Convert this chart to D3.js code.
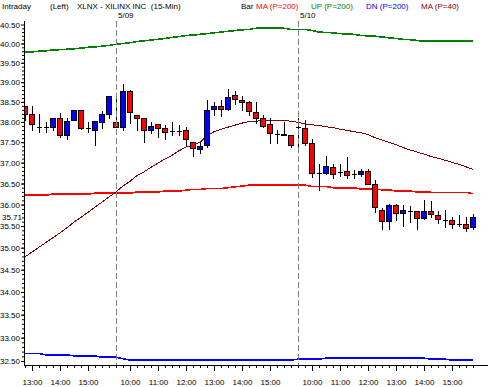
<!DOCTYPE html>
<html>
<head>
<meta charset="utf-8">
<script src="https://cdn.jsdelivr.net/npm/d3@7/dist/d3.min.js"></script>
<style>
body { margin: 0; background: #fff; }
text { font-family: "Liberation Sans", Arial, sans-serif; font-size: 8px; }
</style>
</head>
<body>
<div id="chart"></div>
<script>
// Bar times (15-min bars) for the three sessions shown
var dates = ["5/08", "5/09", "5/10"];
var day1Times = ["12:45","13:00","13:15","13:30","13:45","14:00","14:15","14:30","14:45","15:00","15:15","15:30","15:45"];
var sessionTimes = ["09:30","09:45","10:00","10:15","10:30","10:45","11:00","11:15","11:30","11:45","12:00","12:15","12:30",
  "12:45","13:00","13:15","13:30","13:45","14:00","14:15","14:30","14:45","15:00","15:15","15:30","15:45"];

// OHLC per bar
var open = [38.39,38.21,37.88,37.88,37.88,38.11,37.67,38.06,38.29,37.84,37.81,38.00,38.21,
  37.99,37.88,38.77,38.18,38.09,37.80,37.96,37.84,37.78,37.78,37.81,37.51,37.34,37.43,38.33,38.41,38.33,38.67,38.56,38.49,38.26,38.09,37.96,37.71,37.71,37.67,
  37.88,37.84,37.47,36.74,36.75,36.89,36.78,36.79,36.72,36.72,36.79,36.50,35.88,35.62,35.98,35.80,35.85,35.84,35.69,35.84,35.75,35.65,35.63,35.54,35.55,35.47];
var high = [38.40,38.41,38.19,38.00,38.11,38.23,38.11,38.31,38.30,38.00,38.03,38.27,38.65,
  38.67,38.95,38.80,38.18,38.09,38.00,37.96,37.92,38.00,37.92,37.88,37.51,37.51,38.55,38.51,38.56,38.83,38.77,38.65,38.52,38.51,38.17,38.09,37.80,38.00,37.67,
  38.09,38.06,37.57,36.98,37.16,36.98,36.98,37.14,36.82,36.84,36.86,36.58,35.92,36.01,36.01,35.98,35.97,35.84,36.10,36.08,35.85,35.87,35.71,35.75,35.71,35.79];
var low = [38.04,37.80,37.75,37.75,37.80,37.62,37.59,38.04,37.83,37.75,37.43,37.84,38.11,
  37.88,37.81,37.98,37.80,37.51,37.73,37.62,37.57,37.67,37.67,37.43,37.16,37.24,37.39,38.17,38.14,38.29,38.45,38.29,38.17,37.98,37.88,37.47,37.47,37.67,37.39,
  37.30,37.43,36.66,36.34,36.73,36.62,36.67,36.62,36.62,36.67,36.48,35.83,35.42,35.42,35.63,35.51,35.59,35.42,35.66,35.72,35.57,35.47,35.46,35.51,35.38,35.43];
var close = [38.21,37.94,37.88,37.88,38.09,37.67,38.03,38.29,37.85,37.84,38.03,38.19,38.65,
  37.88,38.77,38.25,38.11,37.80,37.89,37.85,37.75,37.78,37.78,37.57,37.35,37.41,38.30,38.39,38.33,38.63,38.58,38.51,38.28,38.10,37.90,37.72,37.71,37.67,37.44,
  37.88,37.48,36.74,36.74,36.92,36.72,36.78,36.71,36.72,36.79,36.48,35.94,35.62,35.98,35.81,35.87,35.85,35.69,35.85,35.77,35.66,35.65,35.55,35.54,35.46,35.71];

// Indicators
var ma200 = [36.22,36.22,36.22,36.22,36.25,36.25,36.25,36.25,36.25,36.25,36.27,36.27,36.27,
  36.27,36.27,36.27,36.30,36.30,36.30,36.30,36.32,36.32,36.32,36.34,36.36,36.36,36.38,36.38,36.38,36.40,36.42,36.44,36.46,36.46,36.46,36.46,36.46,36.46,36.46,
  36.46,36.46,36.43,36.43,36.43,36.40,36.40,36.40,36.40,36.37,36.37,36.37,36.35,36.35,36.32,36.32,36.32,36.30,36.30,36.29,36.29,36.29,36.29,36.29,36.29,36.26];
var up200 = [39.77,39.78,39.80,39.81,39.83,39.84,39.85,39.86,39.88,39.90,39.91,39.93,39.95,
  39.98,40.00,40.02,40.05,40.07,40.09,40.11,40.13,40.16,40.18,40.21,40.22,40.24,40.26,40.28,40.30,40.32,40.34,40.36,40.37,40.40,40.40,40.40,40.40,40.40,40.37,
  40.37,40.37,40.34,40.30,40.29,40.28,40.26,40.25,40.24,40.21,40.20,40.19,40.17,40.15,40.13,40.11,40.10,40.08,40.06,40.06,40.06,40.06,40.06,40.06,40.06,40.06];
var dn200 = [32.66,32.66,32.66,32.63,32.63,32.63,32.63,32.61,32.61,32.61,32.61,32.58,32.58,
  32.58,32.55,32.52,32.52,32.52,32.52,32.52,32.52,32.52,32.52,32.52,32.52,32.52,32.52,32.52,32.52,32.52,32.52,32.52,32.52,32.52,32.52,32.52,32.52,32.52,32.52,
  32.54,32.54,32.54,32.54,32.56,32.56,32.56,32.56,32.56,32.56,32.56,32.56,32.56,32.56,32.56,32.56,32.56,32.56,32.56,32.54,32.54,32.54,32.52,32.52,32.52,32.52];
var ma40 = [34.79,34.90,35.01,35.12,35.23,35.34,35.46,35.59,35.70,35.82,35.94,36.06,36.18,
  36.30,36.44,36.55,36.69,36.78,36.89,36.99,37.09,37.18,37.29,37.38,37.43,37.50,37.65,37.76,37.82,37.87,37.92,37.97,38.01,38.02,38.03,38.04,38.04,38.03,38.02,
  37.99,37.95,37.93,37.91,37.88,37.86,37.82,37.79,37.76,37.73,37.69,37.61,37.55,37.50,37.44,37.37,37.31,37.26,37.21,37.15,37.11,37.06,37.01,36.96,36.90,36.84];

var priceTicks = [32.5,33.0,33.5,34.0,34.5,35.0,35.5,36.0,36.5,37.0,37.5,38.0,38.5,39.0,39.5,40.0,40.5];
var lastPrice = 35.71;

var svgWidth = 488;
var svgHeight = 387;

var svg = d3.select("#chart")
  .append("svg")
  .attr("width", svgWidth)
  .attr("height", svgHeight)
  .style("display", "block");

svg.append("rect").attr("width", svgWidth).attr("height", svgHeight).attr("fill", "#fff");

// build bar keys
var barKeys = [];
var barTime = {};
var sessionStart = {};
dates.forEach(function(dt, di) {
  var times = di === 0 ? day1Times : sessionTimes;
  times.forEach(function(t, ti) {
    var k = dt + " " + t;
    barKeys.push(k);
    barTime[k] = t;
    if (di > 0 && ti === 0) sessionStart[dt] = k;
  });
});

var axisX = 24, axisY = 365;

var xScale = d3.scalePoint().domain(barKeys).range([25, 473]);
var yScale = d3.scaleLog().domain([32.5, 40.5]).range([361, 24.5]);

var bars = barKeys.map(function(k, i) {
  return { key: k, o: open[i], h: high[i], l: low[i], c: close[i] };
});

// clip
svg.append("clipPath").attr("id", "plotClip")
  .append("rect").attr("x", axisX + 1).attr("y", 19).attr("width", svgWidth - axisX).attr("height", axisY - 19);

var plot = svg.append("g").attr("clip-path", "url(#plotClip)");

// session separators
var sepDates = ["5/09", "5/10"];
sepDates.forEach(function(dt) {
  var xx = Math.round(xScale(sessionStart[dt])) + 0.5;
  svg.append("line")
    .attr("x1", xx).attr("x2", xx)
    .attr("y1", 21).attr("y2", axisY)
    .attr("stroke", "#808080")
    .attr("stroke-dasharray", "6,3");
  svg.append("text")
    .attr("x", xx + 1.5)
    .attr("y", 18)
    .attr("fill", "#000")
    .text(dt);
});

// indicator lines
var line = d3.line()
  .x(function(d, i) { return xScale(barKeys[i]); })
  .y(function(d) { return yScale(d); });

var series = [
  { data: up200, color: "#008000", w: 1.6 },
  { data: ma200, color: "#ff0000", w: 1.6 },
  { data: dn200, color: "#0000ff", w: 1.6 },
  { data: ma40, color: "#800000", w: 1 }
];
series.forEach(function(s) {
  plot.append("path")
    .datum(s.data)
    .attr("d", line)
    .attr("fill", "none")
    .attr("stroke", s.color)
    .attr("stroke-width", s.w)
    .attr("shape-rendering", "crispEdges");
});

// candles
var candle = plot.selectAll("g.candle")
  .data(bars)
  .enter()
  .append("g")
  .attr("class", "candle")
  .attr("shape-rendering", "crispEdges");

candle.append("line")
  .attr("x1", d => Math.round(xScale(d.key)) + 0.5)
  .attr("x2", d => Math.round(xScale(d.key)) + 0.5)
  .attr("y1", d => Math.round(yScale(d.h)))
  .attr("y2", d => Math.round(yScale(d.l)) + 1)
  .attr("stroke", "#000");

candle.each(function(d) {
  var g = d3.select(this);
  var cx = Math.round(xScale(d.key));
  var yo = Math.round(yScale(d.o)), yc = Math.round(yScale(d.c));
  if (Math.abs(yo - yc) < 1) {
    g.append("line")
      .attr("x1", cx - 2).attr("x2", cx + 3)
      .attr("y1", yo + 0.5).attr("y2", yo + 0.5)
      .attr("stroke", "#000");
  } else {
    g.append("rect")
      .attr("x", cx - 2.5)
      .attr("y", Math.min(yo, yc) + 0.5)
      .attr("width", 5)
      .attr("height", Math.abs(yo - yc))
      .attr("fill", d.c > d.o ? "#0000ff" : "#ff0000")
      .attr("stroke", "#000");
  }
});

// y axis
var yMinor = d3.range(32.6, 40.45, 0.1);
svg.append("g")
  .attr("transform", `translate(${axisX}, 0)`)
  .call(d3.axisLeft(yScale).tickValues(yMinor).tickSize(2).tickFormat(""))
  .call(g => g.select(".domain").remove());

var yAxis = svg.append("g")
  .attr("transform", `translate(${axisX}, 0)`)
  .call(d3.axisLeft(yScale).tickValues(priceTicks).tickSize(3).tickPadding(1).tickFormat(d3.format(".2f")));
yAxis.select(".domain").remove();
yAxis.selectAll("text").style("font-family", "Liberation Sans, Arial, sans-serif").style("font-size", "8px");

svg.append("text")
  .attr("x", 22)
  .attr("y", yScale(lastPrice))
  .attr("dy", "0.32em")
  .attr("text-anchor", "end")
  .text(lastPrice.toFixed(2));

svg.append("line")
  .attr("x1", axisX + 0.5).attr("x2", axisX + 0.5)
  .attr("y1", 21).attr("y2", axisY + 1)
  .attr("stroke", "#000");

// x axis
svg.append("g")
  .attr("transform", `translate(0, ${axisY})`)
  .call(d3.axisBottom(xScale).tickValues(barKeys).tickSize(3).tickFormat(""))
  .call(g => g.select(".domain").remove());

var hourKeys = barKeys.filter(k => barTime[k].slice(3) === "00");
var xAxis = svg.append("g")
  .attr("transform", `translate(0, ${axisY})`)
  .call(d3.axisBottom(xScale).tickValues(hourKeys).tickSize(6).tickPadding(8).tickFormat(k => barTime[k]));
xAxis.select(".domain").remove();
xAxis.selectAll("text").style("font-family", "Liberation Sans, Arial, sans-serif").style("font-size", "8px");

svg.append("line")
  .attr("x1", axisX).attr("x2", svgWidth)
  .attr("y1", axisY + 0.5).attr("y2", axisY + 0.5)
  .attr("stroke", "#000");

// header
var header = [
  { t: "Intraday", x: 2, c: "#000" },
  { t: "(Left)", x: 50, c: "#000" },
  { t: "XLNX - XILINX INC  (15-Min)", x: 77, c: "#000" },
  { t: "Bar", x: 241, c: "#000" },
  { t: "MA (P=200)", x: 256, c: "#ff0000" },
  { t: "UP (P=200)", x: 311, c: "#008000" },
  { t: "DN (P=200)", x: 366, c: "#0000ff" },
  { t: "MA (P=40)", x: 421, c: "#800000" }
];
svg.selectAll("text.hdr")
  .data(header)
  .enter()
  .append("text")
  .attr("class", "hdr")
  .attr("x", d => d.x)
  .attr("y", 9)
  .attr("fill", d => d.c)
  .style("white-space", "pre")
  .text(d => d.t);
</script>
</body>
</html>
